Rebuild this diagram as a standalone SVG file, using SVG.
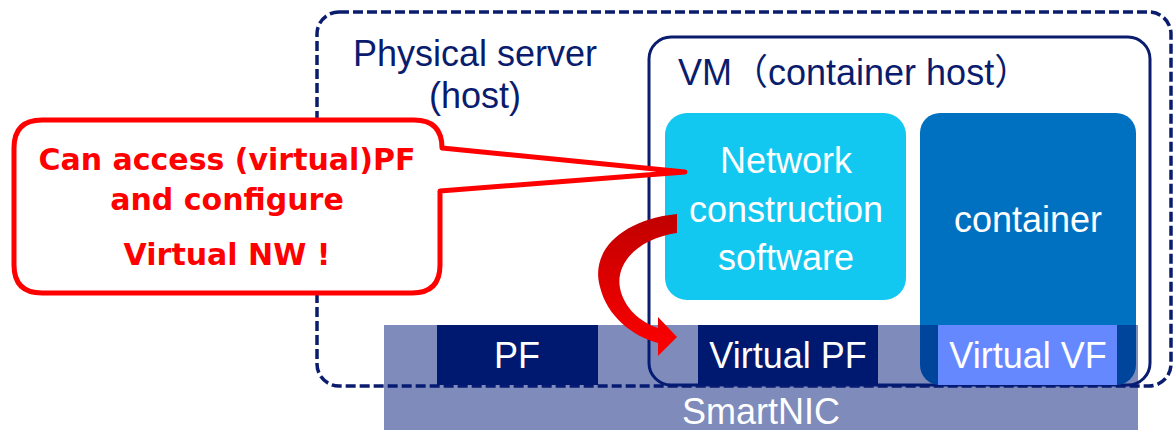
<svg xmlns="http://www.w3.org/2000/svg" width="1173" height="430" viewBox="0 0 1173 430">
<defs>
<style>
.lbl{font-family:"Liberation Sans",Arial,"Noto Sans CJK JP",sans-serif;font-size:36px}
.navy{fill:#0a1c6e}
.white{fill:#ffffff}
.call{font-family:"DejaVu Sans",Verdana,sans-serif;font-weight:bold;font-size:30px;fill:#ff0000}
</style>
<linearGradient id="arrowGrad" x1="0" y1="0" x2="0" y2="1">
<stop offset="0" stop-color="#c00000"/>
<stop offset="1" stop-color="#ff0000"/>
</linearGradient>
</defs>
<rect width="1173" height="430" fill="#ffffff"/>
<g id="physical-server">
<rect x="317" y="12" width="854" height="374" rx="22" fill="none" stroke="#0a1c6e" stroke-width="3.5" stroke-dasharray="10 4"/>
<text class="lbl navy" x="475" y="66" text-anchor="middle">Physical server</text>
<text class="lbl navy" x="475" y="108" text-anchor="middle">(host)</text>
</g>
<g id="vm">
<rect x="649" y="37" width="501" height="348" rx="22" fill="none" stroke="#0a1c6e" stroke-width="3"/>
<text class="lbl navy" x="678" y="85">VM（container host）</text>
</g>
<g id="container">
<rect x="920" y="113" width="216" height="272" rx="20" fill="#0070c0"/>
<text class="lbl white" x="1028" y="232" text-anchor="middle">container</text>
</g>
<g id="network-software">
<rect x="665" y="113" width="241" height="187" rx="22" fill="#12c8f0"/>
<text class="lbl white" x="786" y="173" text-anchor="middle">Network</text>
<text class="lbl white" x="786" y="222" text-anchor="middle">construction</text>
<text class="lbl white" x="786" y="270" text-anchor="middle">software</text>
</g>
<g id="smartnic">
<rect x="384" y="325" width="754" height="105" fill="#001977" fill-opacity="0.5"/>
<text class="lbl white" x="761" y="424" text-anchor="middle">SmartNIC</text>
</g>
<g id="pf">
<rect x="437" y="325" width="161" height="60" fill="#001970"/>
<text class="lbl white" x="517" y="368" text-anchor="middle">PF</text>
</g>
<g id="virtual-pf">
<rect x="698" y="325" width="180" height="60" fill="#001970"/>
<text class="lbl white" x="788" y="368" text-anchor="middle">Virtual PF</text>
</g>
<g id="virtual-vf">
<rect x="938" y="325" width="179" height="60" fill="#6688ff"/>
<text class="lbl white" x="1028" y="368" text-anchor="middle">Virtual VF</text>
</g>
<g id="connectors">
<path d="M677,214 C620,220 590,252 600,287 C607,316 632,336 658,343 L658,356 L677,337 L658,317 L658,328 C640,322 624,308 620,288 C615,262 640,238 677,233 Z" fill="url(#arrowGrad)"/>
</g>
<g id="callout">
<path d="M42,120 H414 Q442,120 442,148 L685,172 L440,191 V265 Q440,293 412,293 H42 Q14,293 14,265 V148 Q14,120 42,120 Z" fill="#ffffff" stroke="#ff0000" stroke-width="5" stroke-linejoin="round"/>
<text class="call" x="227" y="170" text-anchor="middle">Can access (virtual)PF</text>
<text class="call" x="227" y="210" text-anchor="middle">and configure</text>
<text class="call" x="227" y="265" text-anchor="middle">Virtual NW !</text>
</g>
</svg>
